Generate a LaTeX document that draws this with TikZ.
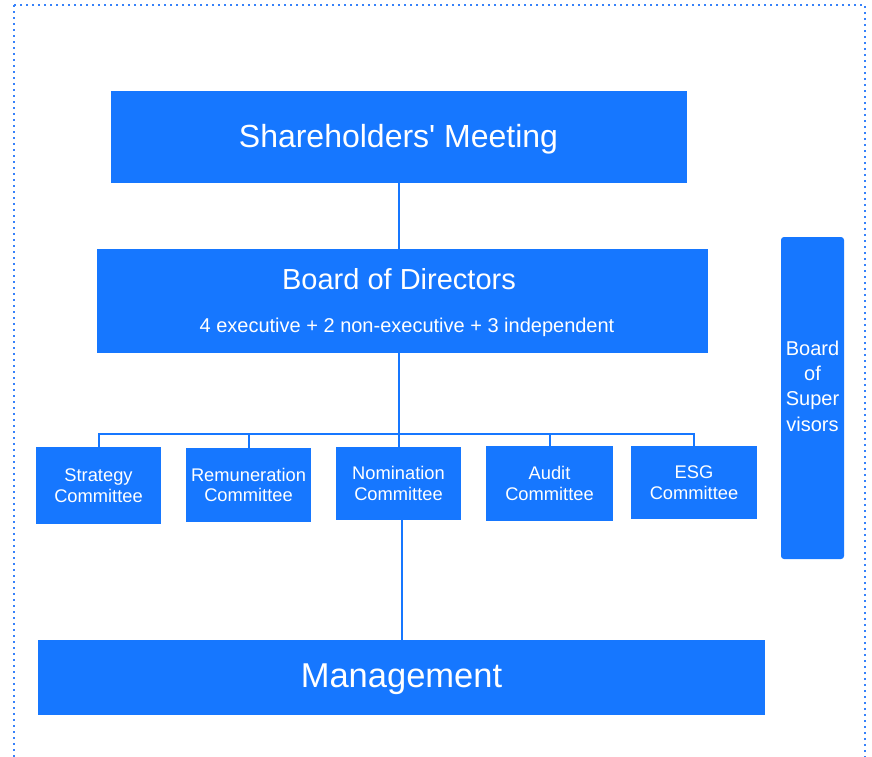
\documentclass[tikz,border=0pt]{standalone}
\usepackage{fontspec}
\setmainfont{Liberation Sans}
\usetikzlibrary{positioning}
\definecolor{orgblue}{RGB}{22,119,255}
\definecolor{dotblue}{RGB}{55,130,250}

\begin{document}
\begin{tikzpicture}[x=1pt,y=-1pt,
  box/.style={fill=orgblue,text=white,inner sep=0pt,align=center},
  comm/.style={box,minimum width=125pt,minimum height=75pt,font=\fontsize{18.3}{20.5}\selectfont},
  whitetext/.style={text=white,inner sep=0pt,align=center},
  link/.style={draw=orgblue,line width=2pt}]
  \useasboundingbox (0,0) rectangle (872,756);
  \begin{scope}
    \clip (0,0) rectangle (872,756);
    \draw[dotblue,line width=2.2pt,dash pattern=on 2pt off 4pt] (14,5) rectangle (865,790);
  \end{scope}
  % top levels
  \node[box,minimum width=576pt,minimum height=92pt] (share) at (399,137) {};
  \node[whitetext,font=\fontsize{32}{36}\selectfont] (sharetext) at (398.5,139) {Shareholders\textquotesingle\ Meeting};
  \node[box,minimum width=611pt,minimum height=104pt] (board) at (402.5,301) {};
  \node[whitetext,font=\fontsize{29}{32}\selectfont] (boardtitle) at (399,279) {Board of Directors};
  \node[whitetext,font=\fontsize{20}{24}\selectfont] (boardsub) at (407,327) {4 executive + 2 non-executive + 3 independent};
  % committees
  \node[comm,minimum height=77pt] (strat) at (98.5,485.5) {Strategy\\Committee};
  \node[comm,minimum height=74pt] (remun) at (248.5,485) {Remuneration\\Committee};
  \node[comm,minimum height=73pt] (nomin) at (398.5,483.5) {Nomination\\Committee};
  \node[comm,minimum width=127pt] (audit) at (549.5,483.5) {Audit\\Committee};
  \node[comm,minimum width=126pt,minimum height=73pt] (esg) at (694,482.5) {ESG\\Committee};
  \node[box,minimum width=727pt,minimum height=75pt] (mgmt) at (401.5,677.5) {};
  \node[whitetext,font=\fontsize{34.5}{38}\selectfont] (mgmttext) at (401.5,679) {Management};
  \node[box,rounded corners=3pt,minimum width=63pt,minimum height=322pt] (superv) at (812.5,398) {};
  \node[whitetext,font=\fontsize{20}{25.3}\selectfont] (supervtext) at (812.5,386) {Board\\of\\Super\\visors};
  % connectors
  \coordinate (bar) at (0,434);
  \draw[link] (share.south) -- (share.south |- board.north);
  \draw[link] (nomin.north |- board.south) -- (nomin.north);
  \draw[link] (strat.north) |- (esg.north |- bar) -- (esg.north);
  \foreach \c in {remun,audit}
    \draw[link] (\c.north) -- (\c.north |- bar);
  \draw[link] (mgmt.north |- nomin.south) -- (mgmt.north);
\end{tikzpicture}
\end{document}
